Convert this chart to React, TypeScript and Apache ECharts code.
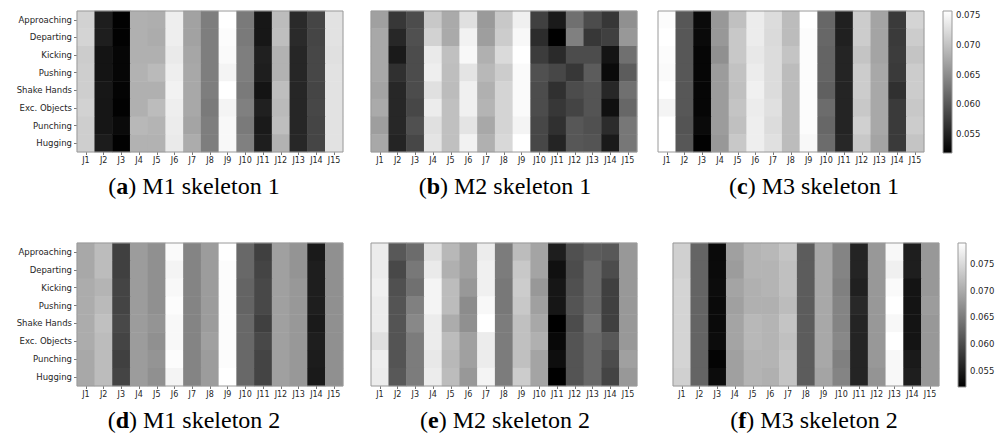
import React, { useEffect, useRef } from "react";
import * as echarts from "echarts";

const joints = ["J1", "J2", "J3", "J4", "J5", "J6", "J7", "J8", "J9", "J10", "J11", "J12", "J13", "J14", "J15"];
const actions = ["Approaching", "Departing", "Kicking", "Pushing", "Shake Hands", "Exc. Objects", "Punching", "Hugging"];
const colorbarTicks = [0.055, 0.06, 0.065, 0.07, 0.075];
const topRange = [0.0518, 0.0757];
const bottomRange = [0.052, 0.0789];

const m1Skeleton1 = [
  [0.0715, 0.0546, 0.0520, 0.0683, 0.0681, 0.0741, 0.0670, 0.0636, 0.0757, 0.0632, 0.0540, 0.0694, 0.0557, 0.0583, 0.0730],
  [0.0717, 0.0546, 0.0520, 0.0683, 0.0679, 0.0741, 0.0670, 0.0636, 0.0754, 0.0632, 0.0540, 0.0696, 0.0557, 0.0583, 0.0730],
  [0.0709, 0.0537, 0.0524, 0.0683, 0.0683, 0.0737, 0.0674, 0.0636, 0.0752, 0.0636, 0.0548, 0.0685, 0.0554, 0.0585, 0.0728],
  [0.0711, 0.0537, 0.0524, 0.0685, 0.0692, 0.0741, 0.0675, 0.0636, 0.0747, 0.0636, 0.0546, 0.0685, 0.0554, 0.0585, 0.0730],
  [0.0711, 0.0540, 0.0522, 0.0683, 0.0683, 0.0745, 0.0675, 0.0636, 0.0757, 0.0632, 0.0537, 0.0696, 0.0554, 0.0583, 0.0730],
  [0.0715, 0.0539, 0.0520, 0.0683, 0.0694, 0.0741, 0.0675, 0.0632, 0.0747, 0.0638, 0.0548, 0.0692, 0.0554, 0.0585, 0.0730],
  [0.0711, 0.0539, 0.0527, 0.0690, 0.0687, 0.0739, 0.0672, 0.0636, 0.0750, 0.0632, 0.0542, 0.0696, 0.0554, 0.0583, 0.0730],
  [0.0711, 0.0544, 0.0520, 0.0685, 0.0685, 0.0737, 0.0679, 0.0636, 0.0750, 0.0638, 0.0546, 0.0685, 0.0555, 0.0583, 0.0730],
];

const m2Skeleton1 = [
  [0.0668, 0.0570, 0.0589, 0.0705, 0.0677, 0.0728, 0.0662, 0.0705, 0.0743, 0.0578, 0.0542, 0.0623, 0.0589, 0.0570, 0.0653],
  [0.0675, 0.0555, 0.0593, 0.0715, 0.0677, 0.0745, 0.0666, 0.0709, 0.0750, 0.0559, 0.0518, 0.0638, 0.0570, 0.0578, 0.0660],
  [0.0675, 0.0542, 0.0589, 0.0737, 0.0698, 0.0750, 0.0683, 0.0722, 0.0757, 0.0574, 0.0557, 0.0589, 0.0589, 0.0537, 0.0623],
  [0.0675, 0.0563, 0.0589, 0.0741, 0.0696, 0.0732, 0.0690, 0.0709, 0.0752, 0.0593, 0.0585, 0.0570, 0.0604, 0.0527, 0.0604],
  [0.0672, 0.0555, 0.0589, 0.0728, 0.0694, 0.0743, 0.0683, 0.0717, 0.0752, 0.0589, 0.0563, 0.0589, 0.0597, 0.0555, 0.0623],
  [0.0677, 0.0555, 0.0585, 0.0739, 0.0698, 0.0743, 0.0687, 0.0717, 0.0752, 0.0589, 0.0570, 0.0582, 0.0597, 0.0533, 0.0615],
  [0.0666, 0.0555, 0.0593, 0.0728, 0.0698, 0.0732, 0.0675, 0.0717, 0.0747, 0.0585, 0.0563, 0.0600, 0.0593, 0.0559, 0.0630],
  [0.0675, 0.0552, 0.0585, 0.0732, 0.0698, 0.0745, 0.0683, 0.0720, 0.0757, 0.0585, 0.0552, 0.0600, 0.0597, 0.0542, 0.0630],
];

const m3Skeleton1 = [
  [0.0754, 0.0600, 0.0527, 0.0660, 0.0698, 0.0739, 0.0724, 0.0694, 0.0757, 0.0615, 0.0548, 0.0709, 0.0672, 0.0572, 0.0717],
  [0.0757, 0.0600, 0.0527, 0.0660, 0.0705, 0.0739, 0.0722, 0.0694, 0.0754, 0.0615, 0.0548, 0.0709, 0.0672, 0.0572, 0.0709],
  [0.0754, 0.0600, 0.0524, 0.0653, 0.0705, 0.0735, 0.0724, 0.0702, 0.0754, 0.0612, 0.0552, 0.0702, 0.0672, 0.0574, 0.0702],
  [0.0752, 0.0600, 0.0524, 0.0664, 0.0700, 0.0739, 0.0724, 0.0694, 0.0754, 0.0612, 0.0552, 0.0709, 0.0675, 0.0572, 0.0709],
  [0.0757, 0.0600, 0.0524, 0.0664, 0.0698, 0.0743, 0.0724, 0.0694, 0.0754, 0.0608, 0.0552, 0.0709, 0.0675, 0.0563, 0.0709],
  [0.0747, 0.0600, 0.0524, 0.0664, 0.0702, 0.0739, 0.0728, 0.0694, 0.0754, 0.0619, 0.0552, 0.0705, 0.0675, 0.0572, 0.0705],
  [0.0757, 0.0597, 0.0527, 0.0664, 0.0698, 0.0741, 0.0724, 0.0694, 0.0754, 0.0615, 0.0552, 0.0713, 0.0675, 0.0572, 0.0709],
  [0.0757, 0.0600, 0.0520, 0.0660, 0.0705, 0.0741, 0.0728, 0.0694, 0.0750, 0.0619, 0.0555, 0.0705, 0.0672, 0.0572, 0.0702],
];

const m1Skeleton2 = [
  [0.0697, 0.0718, 0.0588, 0.0685, 0.0672, 0.0784, 0.0659, 0.0685, 0.0789, 0.0630, 0.0588, 0.0689, 0.0676, 0.0547, 0.0672],
  [0.0697, 0.0718, 0.0588, 0.0685, 0.0672, 0.0777, 0.0659, 0.0685, 0.0786, 0.0630, 0.0592, 0.0689, 0.0676, 0.0552, 0.0672],
  [0.0701, 0.0710, 0.0592, 0.0685, 0.0672, 0.0782, 0.0659, 0.0685, 0.0786, 0.0626, 0.0596, 0.0689, 0.0680, 0.0552, 0.0672],
  [0.0701, 0.0716, 0.0592, 0.0685, 0.0672, 0.0786, 0.0659, 0.0685, 0.0786, 0.0626, 0.0596, 0.0689, 0.0680, 0.0552, 0.0672],
  [0.0701, 0.0723, 0.0596, 0.0685, 0.0676, 0.0782, 0.0659, 0.0685, 0.0786, 0.0630, 0.0588, 0.0689, 0.0680, 0.0547, 0.0672],
  [0.0701, 0.0718, 0.0592, 0.0685, 0.0672, 0.0782, 0.0659, 0.0689, 0.0786, 0.0630, 0.0596, 0.0689, 0.0680, 0.0552, 0.0672],
  [0.0697, 0.0718, 0.0588, 0.0685, 0.0676, 0.0786, 0.0659, 0.0685, 0.0786, 0.0630, 0.0592, 0.0689, 0.0680, 0.0550, 0.0672],
  [0.0697, 0.0718, 0.0592, 0.0685, 0.0672, 0.0777, 0.0659, 0.0685, 0.0789, 0.0630, 0.0592, 0.0689, 0.0680, 0.0547, 0.0672],
];

const m2Skeleton2 = [
  [0.0769, 0.0613, 0.0634, 0.0756, 0.0714, 0.0689, 0.0769, 0.0651, 0.0718, 0.0693, 0.0552, 0.0604, 0.0617, 0.0613, 0.0680],
  [0.0769, 0.0596, 0.0647, 0.0767, 0.0706, 0.0689, 0.0773, 0.0651, 0.0731, 0.0693, 0.0537, 0.0600, 0.0630, 0.0600, 0.0680],
  [0.0773, 0.0604, 0.0638, 0.0777, 0.0718, 0.0680, 0.0773, 0.0647, 0.0735, 0.0680, 0.0543, 0.0604, 0.0630, 0.0588, 0.0680],
  [0.0769, 0.0609, 0.0655, 0.0777, 0.0718, 0.0668, 0.0782, 0.0647, 0.0731, 0.0689, 0.0543, 0.0609, 0.0630, 0.0588, 0.0680],
  [0.0769, 0.0609, 0.0663, 0.0769, 0.0701, 0.0672, 0.0789, 0.0651, 0.0723, 0.0697, 0.0520, 0.0600, 0.0638, 0.0588, 0.0680],
  [0.0756, 0.0609, 0.0651, 0.0769, 0.0718, 0.0689, 0.0769, 0.0651, 0.0723, 0.0706, 0.0528, 0.0609, 0.0630, 0.0613, 0.0680],
  [0.0771, 0.0609, 0.0651, 0.0765, 0.0714, 0.0689, 0.0769, 0.0651, 0.0723, 0.0693, 0.0535, 0.0609, 0.0630, 0.0600, 0.0689],
  [0.0769, 0.0613, 0.0651, 0.0769, 0.0718, 0.0680, 0.0777, 0.0651, 0.0735, 0.0693, 0.0520, 0.0609, 0.0630, 0.0592, 0.0680],
];

const m3Skeleton2 = [
  [0.0739, 0.0626, 0.0531, 0.0689, 0.0710, 0.0714, 0.0727, 0.0617, 0.0697, 0.0659, 0.0558, 0.0680, 0.0782, 0.0552, 0.0680],
  [0.0739, 0.0626, 0.0531, 0.0685, 0.0710, 0.0710, 0.0723, 0.0617, 0.0697, 0.0659, 0.0558, 0.0680, 0.0773, 0.0552, 0.0680],
  [0.0744, 0.0626, 0.0533, 0.0693, 0.0706, 0.0710, 0.0723, 0.0617, 0.0697, 0.0655, 0.0554, 0.0680, 0.0784, 0.0541, 0.0680],
  [0.0744, 0.0626, 0.0531, 0.0689, 0.0706, 0.0706, 0.0718, 0.0617, 0.0697, 0.0659, 0.0562, 0.0680, 0.0789, 0.0541, 0.0685],
  [0.0744, 0.0626, 0.0531, 0.0693, 0.0714, 0.0710, 0.0727, 0.0617, 0.0697, 0.0659, 0.0558, 0.0680, 0.0782, 0.0541, 0.0680],
  [0.0744, 0.0626, 0.0533, 0.0693, 0.0714, 0.0710, 0.0723, 0.0617, 0.0697, 0.0663, 0.0558, 0.0680, 0.0789, 0.0541, 0.0680],
  [0.0744, 0.0626, 0.0524, 0.0689, 0.0710, 0.0710, 0.0727, 0.0617, 0.0697, 0.0655, 0.0558, 0.0680, 0.0782, 0.0547, 0.0680],
  [0.0739, 0.0626, 0.0533, 0.0689, 0.0710, 0.0706, 0.0727, 0.0617, 0.0693, 0.0659, 0.0558, 0.0676, 0.0782, 0.0552, 0.0680],
];

const panels = [
  { data: m1Skeleton1, letter: "a", caption: "M1 skeleton 1", rect: [77, 11, 266, 141], showY: true, cx: 194, cy: 186 },
  { data: m2Skeleton1, letter: "b", caption: "M2 skeleton 1", rect: [371, 11, 266, 141], showY: false, cx: 505, cy: 186 },
  { data: m3Skeleton1, letter: "c", caption: "M3 skeleton 1", rect: [658, 11, 266, 141], showY: false, cx: 814, cy: 186 },
  { data: m1Skeleton2, letter: "d", caption: "M1 skeleton 2", rect: [77, 243, 266, 143], showY: true, cx: 194, cy: 420 },
  { data: m2Skeleton2, letter: "e", caption: "M2 skeleton 2", rect: [371, 243, 266, 143], showY: false, cx: 505, cy: 420 },
  { data: m3Skeleton2, letter: "f", caption: "M3 skeleton 2", rect: [673, 243, 266, 143], showY: false, cx: 814, cy: 420 },
];

const colorbars = [
  { range: topRange, rect: [943, 11, 9, 142] },
  { range: bottomRange, rect: [958, 243, 8, 144] },
];

const FRAME = "#9a9a9a";
const LABEL = "#262626";
const SANS = "'DejaVu Sans', sans-serif";
const SERIF = "'Liberation Serif', 'DejaVu Serif', serif";

export default function App() {
  const ref = useRef<HTMLDivElement>(null);

  useEffect(() => {
    if (!ref.current) return;
    const chart = echarts.init(ref.current, undefined, { renderer: "svg" });

    const grids: any[] = [];
    const xAxes: any[] = [];
    const yAxes: any[] = [];
    const series: any[] = [];
    const graphics: any[] = [];

    panels.forEach((p, i) => {
      grids.push({
        left: p.rect[0], top: p.rect[1], width: p.rect[2], height: p.rect[3],
        show: true, borderColor: FRAME, borderWidth: 1, backgroundColor: "transparent", z: 10,
      });
      xAxes.push({
        gridIndex: i, type: "category", data: joints, position: "bottom",
        axisLine: { show: false },
        axisTick: { show: true, alignWithLabel: true, length: 3, lineStyle: { color: "#555", width: 0.8 } },
        axisLabel: { fontSize: 8, color: LABEL, margin: 4, fontFamily: SANS, interval: 0 },
        splitLine: { show: false },
      });
      yAxes.push({
        gridIndex: i, type: "category", data: actions, inverse: true,
        axisLine: { show: false },
        axisTick: { show: p.showY, alignWithLabel: true, length: 3, lineStyle: { color: "#555", width: 0.8 } },
        axisLabel: { show: p.showY, fontSize: 8.5, color: LABEL, margin: 5, fontFamily: SANS, interval: 0 },
        splitLine: { show: false },
      });
      const d: any[] = [];
      p.data.forEach((row, r) => row.forEach((v, c) => d.push([c, r, v])));
      series.push({
        type: "heatmap", xAxisIndex: i, yAxisIndex: i, data: d,
        itemStyle: { borderWidth: 0 }, emphasis: { disabled: true },
      });
      graphics.push({
        type: "text", x: p.cx, y: p.cy, z: 100,
        style: {
          text: "({b|" + p.letter + "}) " + p.caption,
          fontFamily: SERIF, fontSize: 24, fill: "#000",
          align: "center", verticalAlign: "middle",
          rich: { b: { fontFamily: SERIF, fontSize: 24, fontWeight: "bold", fill: "#000" } },
        },
      });
    });

    colorbars.forEach((cb, k) => {
      const gi = panels.length + k;
      grids.push({
        left: cb.rect[0], top: cb.rect[1], width: cb.rect[2], height: cb.rect[3],
        show: true, borderColor: FRAME, borderWidth: 1, backgroundColor: "transparent", z: 10,
      });
      xAxes.push({ gridIndex: gi, type: "value", show: false, min: 0, max: 1 });
      yAxes.push({
        gridIndex: gi, type: "value", position: "right", min: cb.range[0], max: cb.range[1],
        axisLine: { show: false },
        splitLine: { show: false },
        axisTick: { show: true, length: 3, customValues: colorbarTicks, lineStyle: { color: "#555", width: 0.8 } },
        axisLabel: {
          customValues: colorbarTicks, fontSize: 8.5, color: LABEL, margin: 4, fontFamily: SANS,
          formatter: (v: number) => v.toFixed(3),
        },
      });
      graphics.push({
        type: "rect", z: 1,
        shape: { x: cb.rect[0], y: cb.rect[1], width: cb.rect[2], height: cb.rect[3] },
        style: {
          fill: new echarts.graphic.LinearGradient(0, 0, 0, 1, [
            { offset: 0, color: "#ffffff" },
            { offset: 1, color: "#000000" },
          ]),
        },
      });
    });

    chart.setOption({
      animation: false,
      backgroundColor: "#ffffff",
      grid: grids,
      xAxis: xAxes,
      yAxis: yAxes,
      visualMap: [
        { type: "continuous", show: false, min: topRange[0], max: topRange[1], seriesIndex: [0, 1, 2], inRange: { color: ["#000000", "#ffffff"] } },
        { type: "continuous", show: false, min: bottomRange[0], max: bottomRange[1], seriesIndex: [3, 4, 5], inRange: { color: ["#000000", "#ffffff"] } },
      ],
      series,
      graphic: graphics,
    });

    return () => chart.dispose();
  }, []);

  return (
    <div
      ref={ref}
      style={{ position: "absolute", left: 0, top: 0, width: 1005, height: 443, background: "#fff" }}
    />
  );
}
